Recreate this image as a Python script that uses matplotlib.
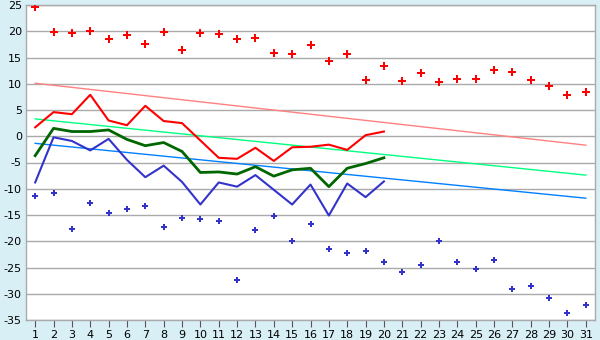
import matplotlib
matplotlib.use('Agg')
import matplotlib.pyplot as plt

days = list(range(1, 32))
max_pts = [24.7, 19.8, 19.6, 20.0, 18.5, 19.2, 17.5, 19.8, 16.4, 19.6,
           19.4, 18.5, 18.7, 15.8, 15.6, 17.3, 14.3, 15.6, 10.8, 13.3,
           10.5, 12.0, 10.3, 11.0, 11.0, 12.6, 12.2, 10.8, 9.5, 7.8, 8.4]
min_pts = [-11.4, -10.9, -17.7, -12.8, -14.7, -13.9, -13.3, -17.3, -15.6, -15.8,
           -16.2, -27.3, -17.9, -15.2, -20.0, -16.8, -21.5, -22.3, -21.9, -24.0,
           -25.9, -24.6, -20.0, -24.0, -25.2, -23.6, -29.0, -28.6, -30.9, -33.7, -32.2]

days20 = list(range(1, 21))
red_line = [1.7, 4.6, 4.2, 7.9, 3.0, 2.1, 5.8, 2.9, 2.5, -0.8,
            -4.1, -4.3, -2.2, -4.7, -2.1, -2.0, -1.6, -2.6, 0.2, 0.9]
green_line = [-3.7, 1.5, 0.9, 0.9, 1.2, -0.6, -1.8, -1.2, -2.9, -6.9,
              -6.8, -7.2, -5.8, -7.6, -6.4, -6.1, -9.6, -6.1, -5.2, -4.1]
blue_line = [-8.8, -0.2, -0.9, -2.7, -0.5, -4.5, -7.8, -5.6, -8.7, -13.0,
             -8.8, -9.6, -7.4, -10.2, -13.0, -9.2, -15.1, -9.0, -11.6, -8.6]

# straight trend lines: (start, end) for day 1 and day 31
trend_x = [1, 31]
trend_red = [10.1, -1.7]
trend_green = [3.3, -7.4]
trend_blue = [-1.35, -11.8]

yticks = list(range(-35, 30, 5))

bg = '#d9eff6'
grid_col = '#aaaaaa'

fig = plt.figure(figsize=(6, 3.4), dpi=100, facecolor=bg)
ax = fig.add_axes([26/600, 1-320/340, (595-26)/600, 315/340])
ax.set_facecolor('white')

ax.plot(trend_x, trend_red, color='#ff8080', lw=1.0, zorder=2)
ax.plot(trend_x, trend_green, color='#00ff80', lw=1.0, zorder=2)
ax.plot(trend_x, trend_blue, color='#0080ff', lw=1.0, zorder=2)

ax.plot(days20, red_line, color='#ff0000', lw=1.5, zorder=3)
ax.plot(days20, green_line, color='#006600', lw=2.0, zorder=3)
ax.plot(days20, blue_line, color='#3333cc', lw=1.5, zorder=3)

ax.plot(days, max_pts, ls='none', marker='P', ms=5.5, color='#ff0000', mew=0, zorder=4)
ax.plot(days, min_pts, ls='none', marker='P', ms=5, color='#3333cc', mew=0, zorder=4)

ax.set_xlim(0.5, 31.5)
ax.set_ylim(-35, 25)
ax.set_xticks(days)
ax.set_yticks(yticks)
ax.set_yticklabels([str(v) for v in yticks])
ax.yaxis.grid(True, color=grid_col, lw=1)
ax.set_axisbelow(True)
for s in ax.spines.values():
    s.set_color(grid_col)
    s.set_linewidth(1)
ax.tick_params(axis='x', length=5, color='#555555', labelsize=8, pad=2)
ax.tick_params(axis='y', length=0, labelsize=8, pad=3)

fig.savefig('out.png', dpi=100, facecolor=bg)
